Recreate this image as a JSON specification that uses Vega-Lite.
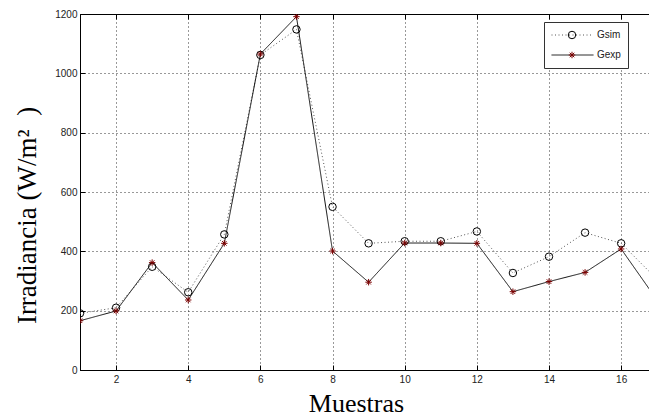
{
  "$schema": "https://vega.github.io/schema/vega-lite/v6.json",
  "width": 570,
  "height": 356,
  "autosize": {"type": "none"},
  "padding": {"left": 80, "top": 14, "right": 0, "bottom": 47},
  "background": "#ffffff",
  "config": {
    "view": {"stroke": "#000", "strokeWidth": 1},
    "axis": {
      "domainColor": "#000",
      "tickColor": "#000",
      "labelFont": "Liberation Sans",
      "labelFontSize": 10,
      "labelColor": "#222",
      "gridColor": "#000",
      "gridDash": [1, 3],
      "gridOpacity": 0.8,
      "tickSize": -5
    }
  },
  "resolve": {"axis": {"x": "independent"}},
  "data": {
    "values": [
      {"x": 1, "series": "Gsim", "y": 191}, {"x": 1, "series": "Gexp", "y": 166},
      {"x": 2, "series": "Gsim", "y": 210}, {"x": 2, "series": "Gexp", "y": 199},
      {"x": 3, "series": "Gsim", "y": 348}, {"x": 3, "series": "Gexp", "y": 362},
      {"x": 4, "series": "Gsim", "y": 262}, {"x": 4, "series": "Gexp", "y": 236},
      {"x": 5, "series": "Gsim", "y": 457}, {"x": 5, "series": "Gexp", "y": 427},
      {"x": 6, "series": "Gsim", "y": 1062}, {"x": 6, "series": "Gexp", "y": 1065},
      {"x": 7, "series": "Gsim", "y": 1148}, {"x": 7, "series": "Gexp", "y": 1191},
      {"x": 8, "series": "Gsim", "y": 550}, {"x": 8, "series": "Gexp", "y": 401},
      {"x": 9, "series": "Gsim", "y": 427}, {"x": 9, "series": "Gexp", "y": 296},
      {"x": 10, "series": "Gsim", "y": 434}, {"x": 10, "series": "Gexp", "y": 428},
      {"x": 11, "series": "Gsim", "y": 434}, {"x": 11, "series": "Gexp", "y": 428},
      {"x": 12, "series": "Gsim", "y": 467}, {"x": 12, "series": "Gexp", "y": 427},
      {"x": 13, "series": "Gsim", "y": 327}, {"x": 13, "series": "Gexp", "y": 264},
      {"x": 14, "series": "Gsim", "y": 382}, {"x": 14, "series": "Gexp", "y": 298},
      {"x": 15, "series": "Gsim", "y": 463}, {"x": 15, "series": "Gexp", "y": 329},
      {"x": 16, "series": "Gsim", "y": 427}, {"x": 16, "series": "Gexp", "y": 408},
      {"x": 17, "series": "Gsim", "y": 305}, {"x": 17, "series": "Gexp", "y": 235}
    ]
  },
  "layer": [
    {
      "mark": {"type": "line", "clip": true, "strokeWidth": 1},
      "encoding": {
        "x": {
          "field": "x", "type": "quantitative",
          "scale": {"domain": [1, 16.8], "nice": false, "zero": false},
          "axis": {"orient": "bottom", "values": [2, 4, 6, 8, 10, 12, 14, 16], "grid": true, "labelPadding": 9,
                   "title": "Muestras", "titleFont": "Liberation Serif", "titleFontSize": 26,
                   "titleFontWeight": "normal", "titleColor": "#000", "titleX": 276, "titleY": 41,
                   "titleBaseline": "alphabetic"}
        },
        "y": {
          "field": "y", "type": "quantitative",
          "scale": {"domain": [0, 1200], "nice": false},
          "axis": {"values": [0, 200, 400, 600, 800, 1000, 1200], "format": "d", "grid": true, "labelPadding": 8,
                   "title": "Irradiancia (W/m²\u2002)", "titleFont": "Liberation Serif", "titleFontSize": 27,
                   "titleFontWeight": "normal", "titleColor": "#000", "titleX": -45, "titleY": 201,
                   "titleAlign": "center", "titleBaseline": "alphabetic", "titleAngle": 270}
        },
        "color": {
          "field": "series", "type": "nominal",
          "scale": {"domain": ["Gsim", "Gexp"], "range": ["#555555", "#111111"]},
          "legend": {
            "orient": "none", "legendX": 464, "legendY": 8,
            "title": null,
            "symbolType": "stroke",
            "symbolSize": 1764,
            "symbolStrokeWidth": 1,
            "clipHeight": 12,
            "labelFont": "Liberation Sans", "labelFontSize": 10, "labelColor": "#222",
            "labelOffset": 3,
            "strokeColor": "#333", "fillColor": "#fff",
            "padding": 7, "rowPadding": 8
          }
        },
        "strokeDash": {
          "field": "series", "type": "nominal",
          "scale": {"domain": ["Gsim", "Gexp"], "range": [[1, 2.5], [1, 0]]},
          "legend": {"orient": "none", "legendX": 464, "legendY": 8, "title": null}
        }
      }
    },
    {
      "mark": {"type": "point", "clip": true, "filled": false, "strokeWidth": 1, "opacity": 1},
      "encoding": {
        "x": {
          "field": "x", "type": "quantitative",
          "axis": {"orient": "top", "values": [2, 4, 6, 8, 10, 12, 14, 16], "labels": false, "grid": false, "domain": false, "title": null}
        },
        "y": {"field": "y", "type": "quantitative"},
        "shape": {
          "field": "series", "type": "nominal",
          "scale": {"domain": ["Gexp", "Gsim"], "range": ["M-1,0H1M0,-1V1M-0.7,-0.7L0.7,0.7M-0.7,0.7L0.7,-0.7", "circle"]},
          "legend": {
            "orient": "none", "legendX": 487, "legendY": 15,
            "values": ["Gsim", "Gexp"],
            "title": null,
            "clipHeight": 12,
            "labelFont": "Liberation Sans", "labelFontSize": 10, "labelOpacity": 0,
            "labelExpr": "''",
            "labelOffset": 3,
            "strokeColor": null, "fillColor": null,
            "padding": 0, "rowPadding": 8,
            "symbolStrokeWidth": 1, "symbolFillColor": "transparent"
          }
        },
        "stroke": {
          "field": "series", "type": "nominal",
          "scale": {"domain": ["Gexp", "Gsim"], "range": ["#7a0000", "#000000"]},
          "legend": {"orient": "none", "legendX": 487, "legendY": 15, "values": ["Gsim", "Gexp"], "title": null}
        },
        "size": {
          "field": "series", "type": "nominal",
          "scale": {"domain": ["Gexp", "Gsim"], "range": [42, 56]},
          "legend": {"orient": "none", "legendX": 487, "legendY": 15, "values": ["Gsim", "Gexp"], "title": null}
        }
      }
    }
  ]
}
